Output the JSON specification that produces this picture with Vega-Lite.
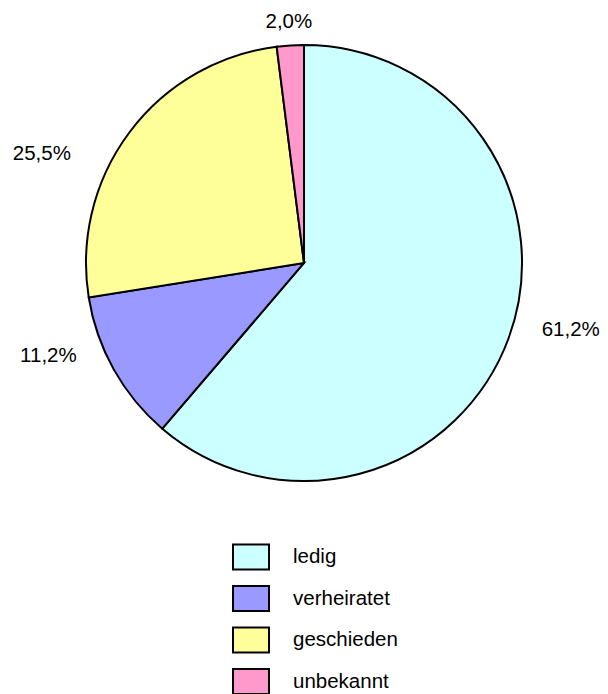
{
  "$schema": "https://vega.github.io/schema/vega-lite/v6.json",
  "width": 608,
  "height": 526,
  "autosize": {"type": "none"},
  "padding": {"left": 0, "top": 0, "right": 0, "bottom": 168},
  "background": "white",
  "data": {
    "values": [
      {"status": "ledig", "value": 61.2, "label": "61,2%", "order": 1},
      {"status": "verheiratet", "value": 11.2, "label": "11,2%", "order": 2},
      {"status": "geschieden", "value": 25.5, "label": "25,5%", "order": 3},
      {"status": "unbekannt", "value": 2.0, "label": "2,0%", "order": 4}
    ]
  },
  "encoding": {
    "theta": {"field": "value", "type": "quantitative", "stack": true},
    "order": {"field": "order", "type": "quantitative"}
  },
  "layer": [
    {
      "mark": {"type": "arc", "outerRadius": 218, "stroke": "black", "strokeWidth": 2},
      "encoding": {
        "color": {
          "field": "status",
          "type": "nominal",
          "sort": ["ledig", "verheiratet", "geschieden", "unbekannt"],
          "scale": {
            "domain": ["ledig", "verheiratet", "geschieden", "unbekannt"],
            "range": ["#CCFFFF", "#9999FF", "#FFFF99", "#FF99CC"]
          },
          "legend": {
            "title": null,
            "orient": "none",
            "legendX": 232,
            "legendY": 538,
            "direction": "vertical",
            "symbolType": "M-1,-0.69H1V0.69H-1Z",
            "symbolSize": 1296,
            "symbolStrokeColor": "black",
            "symbolStrokeWidth": 2,
            "symbolOpacity": 1,
            "labelFont": "Liberation Sans",
            "labelFontSize": 20.5,
            "labelColor": "black",
            "labelOffset": 23,
            "rowPadding": 5.5,
            "labelLimit": 300
          }
        }
      }
    },
    {
      "mark": {"type": "text", "radius": 275, "thetaOffset": -0.108, "baseline": "middle", "font": "Liberation Sans", "fontSize": 20.5, "color": "black"},
      "encoding": {"text": {"condition": {"test": "datum.status === 'ledig'", "field": "label", "type": "nominal"}, "value": ""}}
    },
    {
      "mark": {"type": "text", "radius": 272, "thetaOffset": 0.162, "baseline": "middle", "font": "Liberation Sans", "fontSize": 20.5, "color": "black"},
      "encoding": {"text": {"condition": {"test": "datum.status === 'verheiratet'", "field": "label", "type": "nominal"}, "value": ""}}
    },
    {
      "mark": {"type": "text", "radius": 284, "thetaOffset": -0.248, "baseline": "middle", "font": "Liberation Sans", "fontSize": 20.5, "color": "black"},
      "encoding": {"text": {"condition": {"test": "datum.status === 'geschieden'", "field": "label", "type": "nominal"}, "value": ""}}
    },
    {
      "mark": {"type": "text", "radius": 241, "baseline": "middle", "font": "Liberation Sans", "fontSize": 20.5, "color": "black"},
      "encoding": {"text": {"condition": {"test": "datum.status === 'unbekannt'", "field": "label", "type": "nominal"}, "value": ""}}
    }
  ]
}
